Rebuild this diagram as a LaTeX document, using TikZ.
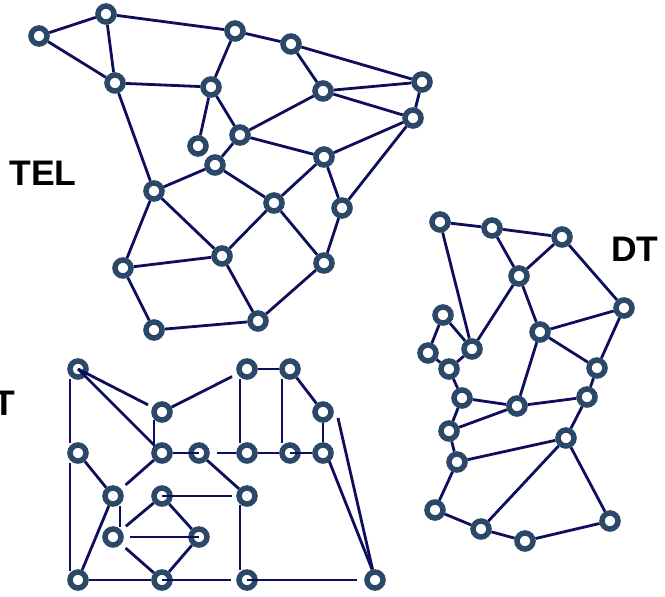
\documentclass[tikz,border=0pt]{standalone}
\usepackage{fontspec}
\setmainfont{Liberation Sans}
\usetikzlibrary{calc}
\definecolor{ringc}{RGB}{44,72,105}
\definecolor{edgec}{RGB}{14,14,92}
\pgfdeclarelayer{background}
\pgfdeclarelayer{foreground}
\pgfsetlayers{background,main,foreground}
\begin{document}
\begin{tikzpicture}[x=1pt,y=-1pt,
  vtx/.style={circle, draw=ringc, line width=5.5pt, fill=white, minimum size=16pt, inner sep=0pt},
  edge/.style={draw=edgec, line width=2.8pt},
  lbl/.style={font=\fontsize{35.5}{36}\selectfont\bfseries, inner sep=0pt, anchor=base, text=black}]
\clip (0,0) rectangle (665,597);
% labels
\node[lbl] (tel) at (43,185) {TEL};
\node[lbl] (dt) at (635,261.5) {DT};
\node[lbl] (t) at (4.5,415) {T};
% ---------- TEL graph ----------
\node[vtx] (A1) at (39,36) {};
\node[vtx] (A2) at (106,14) {};
\node[vtx] (A3) at (235,31) {};
\node[vtx] (A4) at (291,44) {};
\node[vtx] (A5) at (115,83) {};
\node[vtx] (A6) at (211,87) {};
\node[vtx] (A7) at (422,82) {};
\node[vtx] (A8) at (323,91) {};
\node[vtx] (A9) at (413,118) {};
\node[vtx] (A10) at (240,135) {};
\node[vtx] (A11) at (198,146) {};
\node[vtx] (A12) at (324,157) {};
\node[vtx] (A13) at (215,165) {};
\node[vtx] (A14) at (154,191) {};
\node[vtx] (A15) at (274,203) {};
\node[vtx] (A16) at (342,208) {};
\node[vtx] (A17) at (123,268) {};
\node[vtx] (A18) at (222,256) {};
\node[vtx] (A19) at (324,263) {};
\node[vtx] (A20) at (154,330) {};
\node[vtx] (A21) at (258,321) {};
% ---------- DT graph ----------
\node[vtx] (B1) at (440,222) {};
\node[vtx] (B2) at (492,228) {};
\node[vtx] (B3) at (562,237) {};
\node[vtx] (B4) at (519,276) {};
\node[vtx] (B5) at (624,308) {};
\node[vtx] (B6) at (443,315) {};
\node[vtx] (B7) at (472,349) {};
\node[vtx] (B8) at (428,353) {};
\node[vtx] (B9) at (540,332) {};
\node[vtx] (B10) at (449,369) {};
\node[vtx] (B11) at (597,368) {};
\node[vtx] (B12) at (462,398) {};
\node[vtx] (B13) at (517,406) {};
\node[vtx] (B14) at (587,397) {};
\node[vtx] (B15) at (449,431) {};
\node[vtx] (B16) at (566,438) {};
\node[vtx] (B17) at (457,462) {};
\node[vtx] (B18) at (435,510) {};
\node[vtx] (B19) at (481,529) {};
\node[vtx] (B20) at (525,541) {};
\node[vtx] (B21) at (610,521) {};
% ---------- bottom graph ----------
\node[vtx] (C1) at (78,369) {};
\node[vtx] (C2) at (162,412) {};
\node[vtx] (C3) at (247,369) {};
\node[vtx] (C4) at (290,369) {};
\node[vtx] (C5) at (323,412) {};
\node[vtx] (C6) at (78,453) {};
\node[vtx] (C7) at (162,453) {};
\node[vtx] (C8) at (199,453) {};
\node[vtx] (C9) at (247,453) {};
\node[vtx] (C10) at (290,453) {};
\node[vtx] (C11) at (323,453) {};
\node[vtx] (C12) at (113,496) {};
\node[vtx] (C13) at (162,496) {};
\node[vtx] (C14) at (247,496) {};
\node[vtx] (C15) at (113,537) {};
\node[vtx] (C16) at (199,537) {};
\node[vtx] (C17) at (78,580) {};
\node[vtx] (C18) at (162,580) {};
\node[vtx] (C19) at (247,580) {};
\node[vtx] (C20) at (375,580) {};
\coordinate (L1) at (338,418);
\begin{pgfonlayer}{background}
% TEL edges
\foreach \a/\b in {A1/A2,A1/A5,A2/A5,A2/A3,A3/A4,A3/A6,A4/A8,A4/A7,A5/A6,A5/A14,
  A6/A11,A6/A10,A10/A8,A10/A12,A10/A13,A8/A7,A8/A9,A7/A9,A9/A12,A9/A16,A12/A15,
  A12/A16,A13/A14,A13/A15,A14/A17,A14/A18,A15/A18,A15/A19,A16/A19,A17/A18,
  A17/A20,A18/A21,A19/A21,A20/A21}
  \draw[edge] (\a) -- (\b);
% DT edges
\foreach \a/\b in {B1/B2,B2/B3,B1/B7,B2/B4,B3/B4,B3/B5,B4/B7,B4/B9,B9/B5,B9/B11,
  B5/B11,B9/B13,B6/B7,B6/B8,B8/B10,B7/B10,B10/B12,B12/B13,B13/B14,B11/B14,
  B12/B15,B15/B13,B14/B16,B15/B17,B17/B16,B17/B18,B16/B19,B16/B21,B18/B19,
  B19/B20,B20/B21}
  \draw[edge] (\a) -- (\b);
% bottom graph edges
\foreach \a/\b in {C3/C4,C4/C5,C5/C11,C9/C10,C6/C12,C8/C14,C12/C17,C13/C16,
  C16/C18,C17/C18}
  \draw[edge] (\a) -- (\b);
\draw[edge, shorten >=6pt] (C2) -- (C3);
\draw[edge, shorten <=7pt] (C8) -- (C9);
\draw[edge, shorten >=6pt] (C7) -- (C12);
\draw[edge, shorten >=6pt] (C13) -- (C15);
\draw[edge, shorten <=6pt] (C15) -- (C18);
\draw[edge] ([xshift=3pt]C11.center) -- ([xshift=-3pt]C20.north);
\draw[edge] (L1) -- (C20);
% offset verticals
\draw[edge, shorten <=10pt, shorten >=10pt] ([xshift=-8pt]C1.center) -- ([xshift=-8pt]C6.center);
\draw[edge, shorten <=10pt, shorten >=9pt] ([xshift=-8pt]C6.center) -- ([xshift=-8pt]C17.center);
\draw[edge, shorten <=8pt, shorten >=6pt] ([xshift=-8pt]C2.center) -- ([xshift=-8pt]C7.center);
\draw[edge, shorten <=10pt, shorten >=10pt] ([xshift=-7pt]C3.center) -- ([xshift=-7pt]C9.center);
\draw[edge, shorten <=10pt, shorten >=10pt] ([xshift=-8pt]C4.center) -- ([xshift=-8pt]C10.center);
\draw[edge, shorten <=10pt, shorten >=10pt] ([xshift=7pt]C12.center) -- ([xshift=7pt]C15.center);
\draw[edge, shorten <=9pt, shorten >=10pt] ([xshift=-7pt]C14.center) -- ([xshift=-7pt]C19.center);
\end{pgfonlayer}
\begin{pgfonlayer}{foreground}
\draw[edge, shorten >=15.7pt] (C1.center) -- (C2.center);
\draw[edge] (C1.center) -- (C7);
\draw[edge] (C7) -- (C8.center);
\draw[edge] (C10.center) -- (C11);
\draw[edge, shorten >=4pt] (C13.center) -- (C14);
\draw[edge, shorten <=17pt] (C15.center) -- (C16.center);
\draw[edge, shorten >=5pt] (C18.center) -- (C19);
\draw[edge, shorten >=7pt] (C19.center) -- (C20);
\end{pgfonlayer}
\end{tikzpicture}
\end{document}
